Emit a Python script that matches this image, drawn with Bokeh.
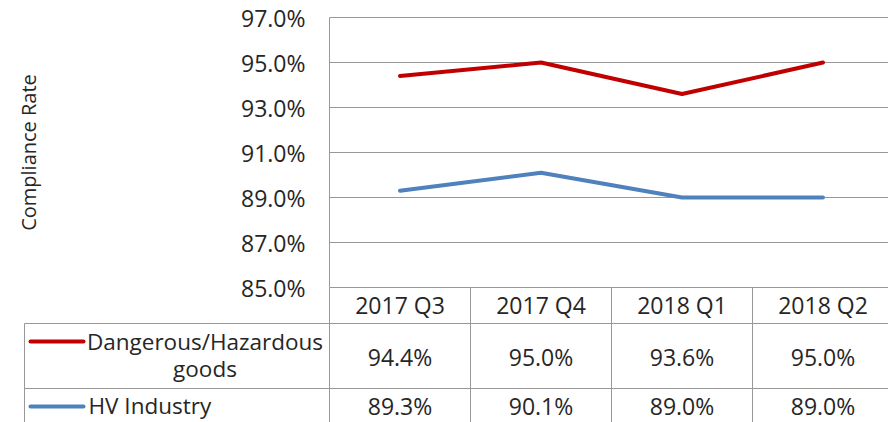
from bokeh.plotting import figure
from bokeh.models import Range1d, FixedTicker, PrintfTickFormatter
from bokeh.core.properties import value
from bokeh.embed import file_html
from bokeh.resources import INLINE

# ---- data ----
quarters = ["2017 Q3", "2017 Q4", "2018 Q1", "2018 Q2"]
series_names = ["Dangerous/Hazardous goods", "HV Industry"]
dangerous = [94.4, 95.0, 93.6, 95.0]
hv_industry = [89.3, 90.1, 89.0, 89.0]
y_ticks = [85, 87, 89, 91, 93, 95, 97]

# ---- style ----
FONT = "Open Sans"
TXT = "#262626"
GRID = "#989898"
RED = "#C00000"
BLUE = "#4F81BD"

W, H = 888, 422
AXIS_X = 329        # pixel position of the value axis inside the figure
COLW = 141.0        # pixel width of one category column
PX_PER_PCT = 22.5
TOP_PAD = 17        # pixels above the 97% line

x_start = -AXIS_X / COLW
x_end = (W - AXIS_X) / COLW
y_hi = y_ticks[-1] + TOP_PAD / PX_PER_PCT
y_lo = y_hi - H / PX_PER_PCT
xs = [i + 0.5 for i in range(len(quarters))]

def px(xpix):
    """horizontal pixel position -> column units"""
    return (xpix - AXIS_X) / COLW

p = figure(width=W, height=H, output_backend="svg", toolbar_location=None,
           x_range=Range1d(x_start, x_end), y_range=Range1d(y_lo, y_hi),
           min_border=0)
p.outline_line_color = None
p.background_fill_color = "white"
p.border_fill_color = "white"
p.xaxis.visible = False
p.grid.visible = False

# table coordinate system: pixels below the bottom (85%) gridline
tab_top = -(y_hi - y_ticks[0]) * PX_PER_PCT
tab_bot = (y_ticks[0] - y_lo) * PX_PER_PCT
p.extra_y_ranges = {"table": Range1d(tab_bot, tab_top)}

# value axis
ya = p.yaxis[0]
ya.fixed_location = 0
ya.bounds = (y_ticks[0], y_ticks[-1])
ya.ticker = FixedTicker(ticks=y_ticks)
ya.formatter = PrintfTickFormatter(format="%.1f%%")
ya.major_tick_in = 0
ya.major_tick_out = 0
ya.minor_tick_line_color = None
ya.axis_line_color = GRID
ya.major_label_standoff = 24
ya.major_label_text_font = FONT
ya.major_label_text_font_size = "23px"
ya.major_label_text_color = TXT
ya.axis_label = "Compliance Rate"
ya.axis_label_text_font = FONT
ya.axis_label_text_font_size = "20px"
ya.axis_label_text_font_style = "normal"
ya.axis_label_text_color = TXT
ya.axis_label_standoff = 196

# horizontal gridlines (plot area only)
p.segment(x0=[0] * len(y_ticks), y0=y_ticks, x1=[x_end] * len(y_ticks), y1=y_ticks,
          line_color=GRID, line_width=1)

# series lines
p.line(xs, dangerous, line_color=RED, line_width=4, line_join="round", line_cap="round")
p.line(xs, hv_industry, line_color=BLUE, line_width=4, line_join="round", line_cap="round")

# ---------------- data table ----------------
TR = "table"
x_tab_left = px(24)
ROW_HDR_BOTTOM = 36
ROW1_BOTTOM = 101

p.segment(x0=[x_tab_left, x_tab_left], y0=[ROW_HDR_BOTTOM, ROW1_BOTTOM],
          x1=[x_end, x_end], y1=[ROW_HDR_BOTTOM, ROW1_BOTTOM],
          line_color=GRID, line_width=1, y_range_name=TR)
vx = [float(i) for i in range(len(quarters) + 1)]
p.segment(x0=vx, y0=[0] * len(vx), x1=vx, y1=[tab_bot + 2] * len(vx),
          line_color=GRID, line_width=1, y_range_name=TR)
p.segment(x0=[x_tab_left], y0=[ROW_HDR_BOTTOM], x1=[x_tab_left], y1=[tab_bot + 2],
          line_color=GRID, line_width=1, y_range_name=TR)

common = dict(text_font=value(FONT), text_color=TXT,
              text_baseline="middle", y_range_name=TR)

# header row (category labels)
p.text(x=xs, y=[17] * len(xs), text=quarters, text_align="center",
       text_font_size="23px", **common)
# value rows
p.text(x=xs, y=[69] * len(xs), text=[f"{v:.1f}%" for v in dangerous],
       text_align="center", text_font_size="23px", **common)
p.text(x=xs, y=[118] * len(xs), text=[f"{v:.1f}%" for v in hv_industry],
       text_align="center", text_font_size="23px", **common)

# legend keys
p.segment(x0=[px(30)], y0=[54], x1=[px(83)], y1=[54], line_color=RED, line_width=4,
          line_cap="round", y_range_name=TR)
p.segment(x0=[px(30)], y0=[119], x1=[px(83)], y1=[119], line_color=BLUE, line_width=4,
          line_cap="round", y_range_name=TR)

# legend labels
name1a, name1b = series_names[0].rsplit(" ", 1)
lbl_center = px(204.5)
p.text(x=[lbl_center, lbl_center], y=[54, 81], text=[name1a, name1b],
       text_align="center", text_font_size="22.5px", **common)
p.text(x=[px(88)], y=[118], text=[series_names[1]],
       text_align="left", text_font_size="22.5px", **common)

open("out.html", "w").write(file_html(p, INLINE))
